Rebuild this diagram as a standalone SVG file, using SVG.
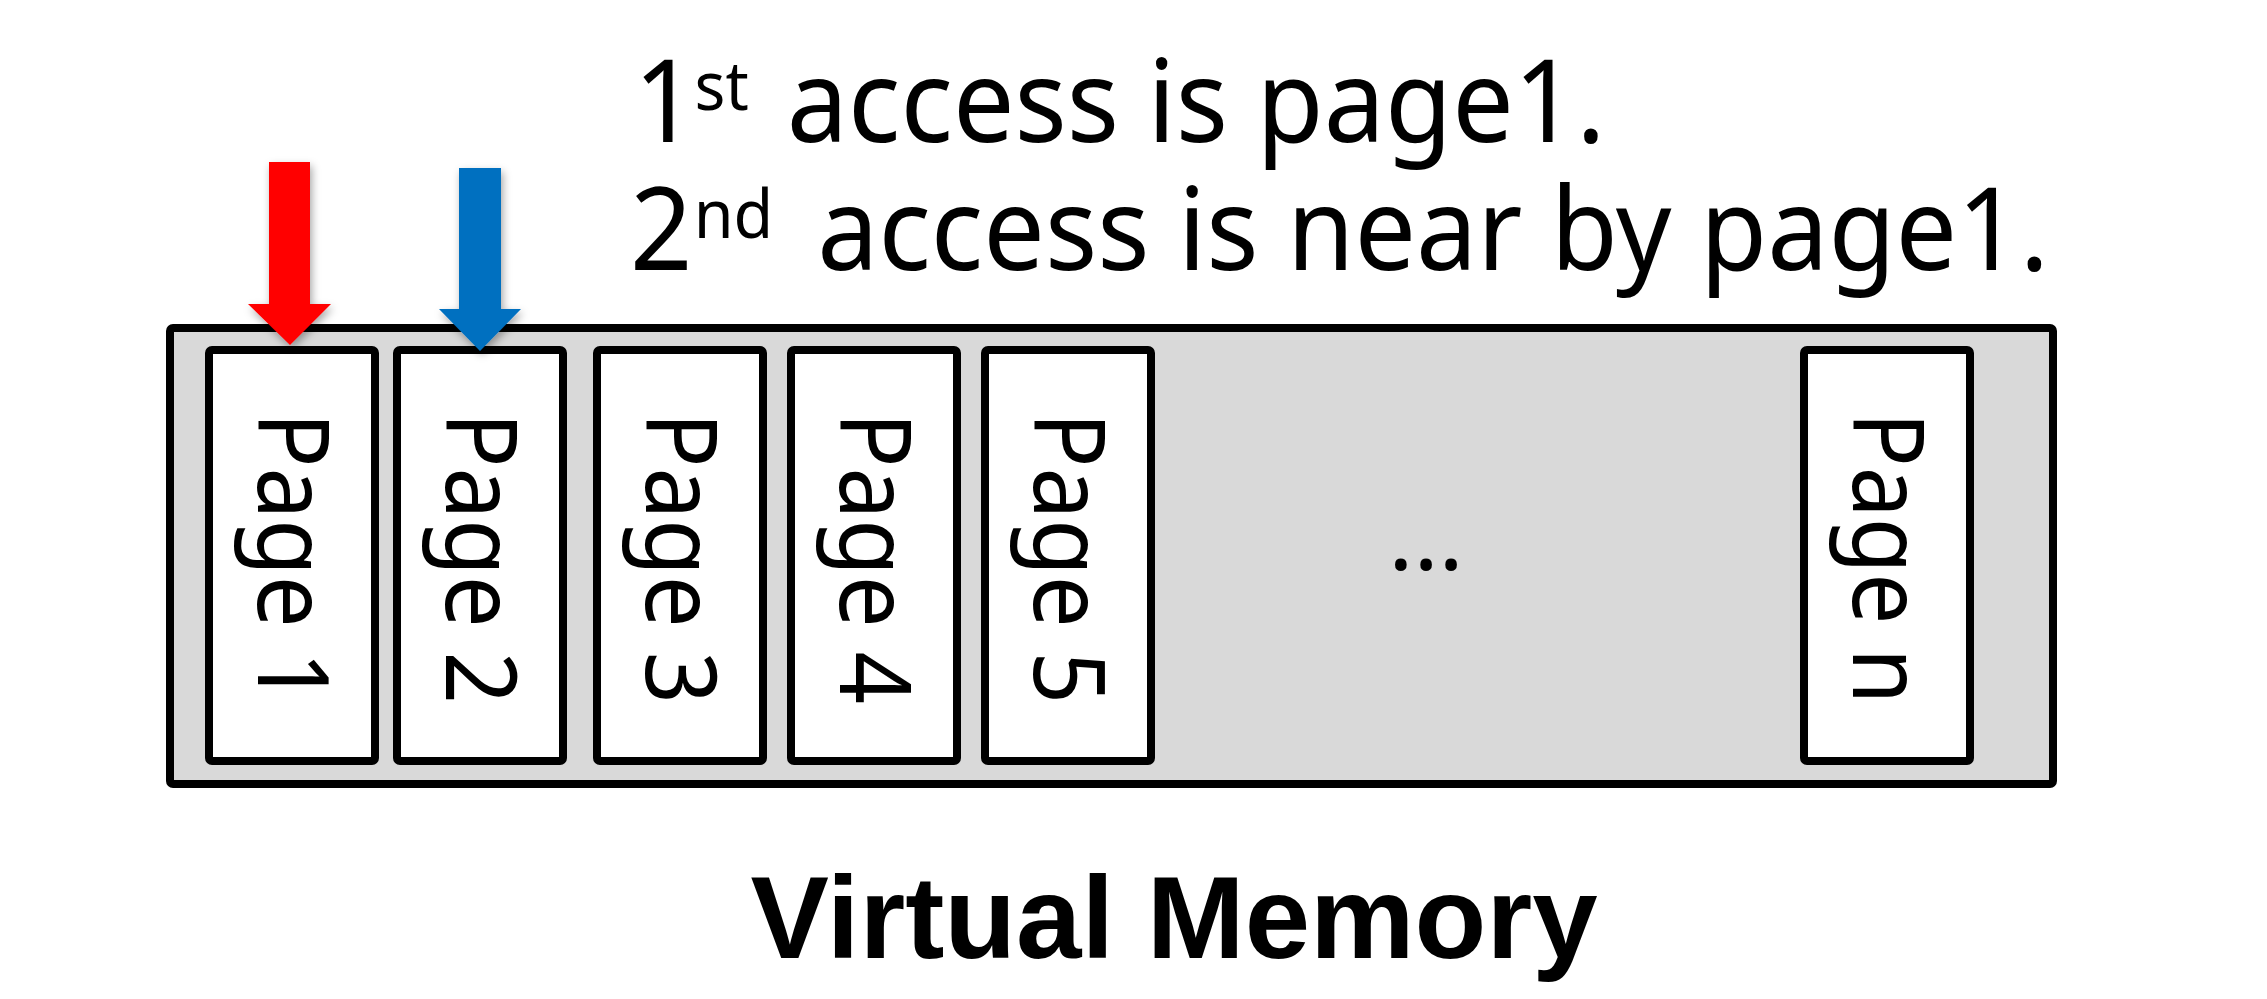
<svg xmlns="http://www.w3.org/2000/svg" width="2267" height="999" viewBox="0 0 2267 999">
<style>
.box{fill:#D9D9D9;stroke:#000;stroke-width:8}
.page{fill:#FFF;stroke:#000;stroke-width:8}
.pt{font-family:"Noto Sans","Open Sans",sans-serif;font-size:99px;fill:#000}
.tt{font-family:"Noto Sans","Open Sans",sans-serif;font-size:115px;fill:#000}
.sup{font-size:68px}
.title{font-family:"Liberation Sans",Arial,sans-serif;font-weight:bold;font-size:116px;fill:#000}
</style>
<defs>
<filter id="sh" x="-50%" y="-20%" width="200%" height="150%">
<feDropShadow dx="2" dy="4" stdDeviation="4" flood-color="#000" flood-opacity="0.35"/>
</filter>
</defs>
<g id="virtual-memory">
<rect class="box" x="170" y="328" width="1883" height="456" rx="3"/>
</g>
<g id="page1"><rect class="page" x="209" y="350" width="166" height="411" rx="3"/><text class="pt" transform="translate(258,412) rotate(90)" textLength="292" lengthAdjust="spacingAndGlyphs">Page 1</text></g>
<g id="page2"><rect class="page" x="397" y="350" width="166" height="411" rx="3"/><text class="pt" transform="translate(446,412) rotate(90)" textLength="292" lengthAdjust="spacingAndGlyphs">Page 2</text></g>
<g id="page3"><rect class="page" x="597" y="350" width="166" height="411" rx="3"/><text class="pt" transform="translate(646,412) rotate(90)" textLength="292" lengthAdjust="spacingAndGlyphs">Page 3</text></g>
<g id="page4"><rect class="page" x="791" y="350" width="166" height="411" rx="3"/><text class="pt" transform="translate(840,412) rotate(90)" textLength="292" lengthAdjust="spacingAndGlyphs">Page 4</text></g>
<g id="page5"><rect class="page" x="985" y="350" width="166" height="411" rx="3"/><text class="pt" transform="translate(1034,412) rotate(90)" textLength="292" lengthAdjust="spacingAndGlyphs">Page 5</text></g>
<g id="ellipsis"><text class="pt" x="1426" y="570" text-anchor="middle" style="font-size:94px">...</text></g>
<g id="pagen"><rect class="page" x="1804" y="350" width="166" height="411" rx="3"/><text class="pt" transform="translate(1853,412) rotate(90)" textLength="292" lengthAdjust="spacingAndGlyphs">Page n</text></g>
<g id="caption">
<text class="tt" transform="translate(630,0) scale(0.95,1)"><tspan x="4" y="142">1</tspan><tspan class="sup" x="68" y="110">st</tspan><tspan x="165" y="142">access is page1.</tspan><tspan x="0" y="270">2</tspan><tspan class="sup" x="67" y="238">nd</tspan><tspan x="197" y="270">access is near by page1.</tspan></text>
</g>
<g id="label"><text class="title" x="1174" y="958" text-anchor="middle" textLength="847" lengthAdjust="spacingAndGlyphs">Virtual Memory</text></g>
<g id="connectors">
<polygon filter="url(#sh)" fill="#FF0000" points="269,162 310,162 310,304 331,304 290,345 248,304 269,304"/>
<polygon filter="url(#sh)" fill="#0070C0" points="459,168 501,168 501,309 521,309 480,351 439,309 459,309"/>
</g>
</svg>
